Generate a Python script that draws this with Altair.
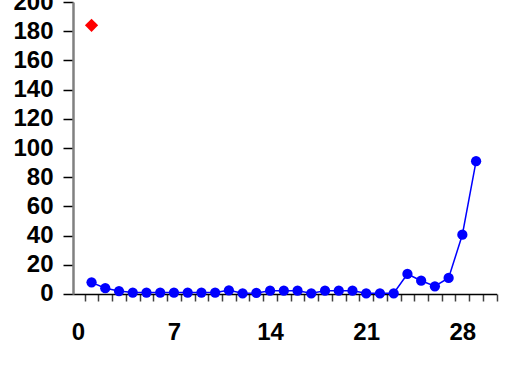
import altair as alt
import pandas as pd

days = list(range(1, 30))
values = [8, 4, 2, 1, 1, 1, 1, 1, 1, 1, 2.5, 0.5, 0.7, 2.3, 2.3, 2.3, 0.5, 2.3, 2.3, 2.3,
          0.5, 0.5, 0.5, 13.7, 9.1, 5.3, 11, 40.6, 91]
red_day = [1]
red_value = [184]

x_ticks = [i + 0.5 for i in range(0, 31)] + [0, 7, 14, 21, 28]
y_ticks = list(range(0, 201, 20))

df = pd.DataFrame({"day": days, "value": values})
dr = pd.DataFrame({"day": red_day, "value": red_value})

x_scale = alt.Scale(domain=[-0.35, 30.5], nice=False, zero=False)
y_scale = alt.Scale(domain=[0, 200], nice=False)

x_axis = alt.Axis(
    values=x_ticks, title=None, grid=False,
    labelExpr="datum.value % 7 === 0 ? datum.label : ''",
    labelOverlap=False, labelFlush=False, labelBound=False,
    labelFont="Liberation Sans", labelFontSize=24, labelFontWeight="bold",
    labelColor="black", labelPadding=20,
    tickSize=7, tickWidth=1.5, tickColor="#404040",
    tickOpacity={"condition": {"test": "datum.value % 1 === 0", "value": 0}, "value": 1},
    domainColor="black", domainWidth=1.5,
)
y_axis = alt.Axis(
    values=y_ticks, title=None, grid=False, format="d",
    labelFont="Liberation Sans", labelFontSize=24, labelFontWeight="bold",
    labelColor="black", labelPadding=10, labelOverlap=False, labelFlush=False,
    labelBound=False,
    tickSize=10, tickWidth=1.5, tickColor="black",
    domainColor="#808080", domainWidth=2.5,
)

enc_x = alt.X("day:Q", scale=x_scale, axis=x_axis)
enc_y = alt.Y("value:Q", scale=y_scale, axis=y_axis)

line = alt.Chart(df).mark_line(color="#0000FF", strokeWidth=1.5).encode(x=enc_x, y=enc_y)
pts = alt.Chart(df).mark_point(filled=True, shape="circle", size=105, color="#0000FF", opacity=1).encode(
    x=enc_x, y=enc_y)
red = alt.Chart(dr).mark_point(filled=True, shape="diamond", size=175, color="#FF0000", opacity=1).encode(
    x=enc_x, y=enc_y)

chart = alt.layer(line, pts, red).properties(
    width=423.7, height=292,
    autosize=alt.AutoSizeParams(type="none"),
    padding={"left": 73, "top": 2, "right": 9, "bottom": 82},
    background="white",
).configure_view(stroke=None).configure_axis(labelOverlap=False)

chart.save("out.html", embed_options={"renderer": "svg", "actions": False})
